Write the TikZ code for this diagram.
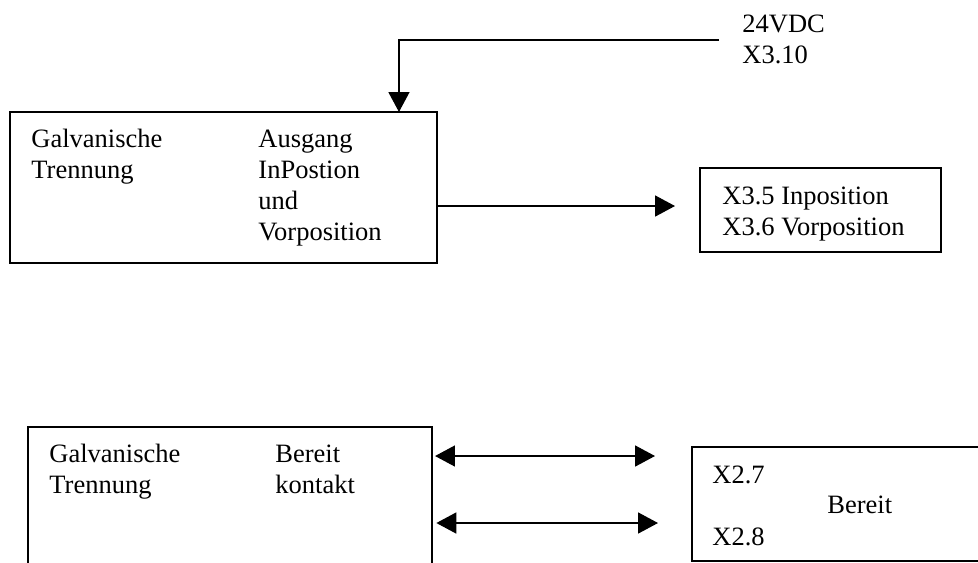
\documentclass[tikz,border=0pt]{standalone}
\usepackage{fontspec}
\setmainfont{Liberation Serif}
\usepackage{tikz}
\usetikzlibrary{positioning,arrows.meta}

\begin{document}
\begin{tikzpicture}[
    x=0.4528pt, y=-0.4528pt,
    font={\fontsize{12pt}{14pt}\selectfont},
    base/.style={draw,line width=0.6pt,rectangle,outer sep=0pt,inner sep=0pt},
    txt/.style={anchor=base west,align=left,inner sep=0pt},
    arr/.style={-{Triangle[length=9pt,width=9.5pt]},line width=0.6pt},
    dbl/.style={{Triangle[length=9pt,width=9.5pt]}-{Triangle[length=9pt,width=9.5pt]},line width=0.6pt},
]

    \useasboundingbox (0,0) rectangle (978,562);
    \clip (0,0) rectangle (978,562);

    % Nodes
    \node[base,minimum width=193.3pt,minimum height=68.4pt] (mainbox)    at (223.5,187.5) {};
    \node[base,minimum width=109.1pt,minimum height=38pt]   (outbox)     at (820.5,210)   {};
    \node[base,minimum width=182.9pt,minimum height=87.4pt] (readybox)   at (230,523.5)   {};
    \node[base,minimum width=157.6pt,minimum height=51.6pt] (contactbox) at (866,504)     {};

    % Text (anchored at the baseline of the last line)
    \node[txt] (galvtop)  at (31,178)  {Galvanische\\Trennung};
    \node[txt] (outtxt)   at (258,240) {Ausgang\\InPostion\\und\\Vorposition};
    \node[txt] (postxt)   at (722,235) {X3.5 Inposition\\X3.6 Vorposition};
    \node[txt] (supplytxt) at (742,63) {24VDC\\X3.10};
    \node[txt] (galvbot)  at (49,493)  {Galvanische\\Trennung};
    \node[txt] (readytxt) at (275,493) {Bereit\\kontakt};
    \node[txt] (pin7)     at (712,483) {X2.7};
    \node[txt] (readylbl) at (827,513) {Bereit};
    \node[txt] (pin8)     at (712,545) {X2.8};

    % Arrows
    \coordinate (supply) at (719,40);
    \coordinate (outend) at (675,206);
    \coordinate (link1)  at (655,456);
    \coordinate (link2)  at (658,523);
    \draw[arr] (supply) -| ([xshift=-17.2pt]mainbox.north east);
    \draw[arr] (mainbox.east |- outend) -- (outend);
    \draw[dbl] ([xshift=1.4pt]readybox.east |- link1) -- (link1);
    \draw[dbl] ([xshift=2pt]readybox.east |- link2) -- (link2);

\end{tikzpicture}
\end{document}
